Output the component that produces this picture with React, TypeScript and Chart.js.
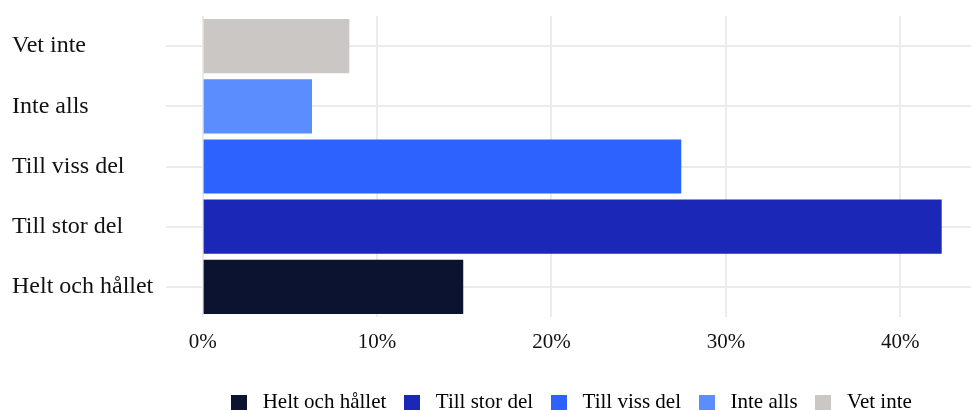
import React, { useEffect, useRef } from 'react';
import { Chart, registerables } from 'chart.js';

Chart.register(...registerables);

// Legend / data order (bottom bar first)
const categories = ['Helt och hållet', 'Till stor del', 'Till viss del', 'Inte alls', 'Vet inte'];
const values = [14.94, 42.37, 27.44, 6.27, 8.41];
const colors = ['#0b1331', '#1a27b7', '#2e62ff', '#5b8dff', '#cbc7c4'];
const xTickValues = [0, 10, 20, 30, 40];

const FONT = "'Liberation Serif', 'Times New Roman', serif";

export default function App() {
  const ref = useRef<HTMLCanvasElement>(null);

  useEffect(() => {
    const swatches = colors.map((c) => {
      const cv = document.createElement('canvas');
      cv.width = 16;
      cv.height = 16;
      const g = cv.getContext('2d')!;
      g.fillStyle = c;
      g.fillRect(0, 0, 16, 16);
      return cv;
    });

    const chart = new Chart(ref.current!, {
      type: 'bar',
      data: {
        labels: categories,
        datasets: [
          {
            data: values,
            backgroundColor: colors,
            borderWidth: 0,
            barPercentage: 0.9,
            categoryPercentage: 1,
          },
        ],
      },
      options: {
        indexAxis: 'y',
        animation: false,
        responsive: true,
        maintainAspectRatio: false,
        layout: { padding: { left: 12, top: 16, right: 0, bottom: 0 } },
        scales: {
          x: {
            type: 'linear',
            min: -2.1,
            max: 44.05,
            grid: { color: '#ebebeb', lineWidth: 2, drawTicks: false },
            border: { display: false },
            afterBuildTicks: (s: any) => {
              s.ticks = xTickValues.map((v) => ({ value: v }));
            },
            afterFit: (s: any) => {
              s.height = 63;
            },
            ticks: {
              callback: (v: any) => v + '%',
              font: { family: FONT, size: 21 },
              color: '#111111',
              padding: 13,
              maxRotation: 0,
            },
          },
          y: {
            reverse: true,
            grid: { color: '#ebebeb', lineWidth: 2, drawTicks: false, offset: false },
            border: { display: false },
            afterFit: (s: any) => {
              s.width = 154;
            },
            ticks: {
              crossAlign: 'far',
              font: { family: FONT, size: 24 },
              color: '#111111',
              padding: 0,
            },
          },
        },
        plugins: {
          tooltip: { enabled: false },
          legend: {
            position: 'bottom',
            fullSize: false,
            labels: {
              usePointStyle: true,
              pointStyleWidth: 27,
              boxHeight: 16,
              padding: 12,
              color: '#111111',
              font: { family: FONT, size: 21 },
              generateLabels: () =>
                categories.map((c, i) => ({
                  text: c,
                  fillStyle: colors[i],
                  strokeStyle: colors[i],
                  lineWidth: 0,
                  pointStyle: swatches[i],
                  hidden: false,
                  index: i,
                  datasetIndex: 0,
                })),
            },
          },
        },
      },
    } as any);
    return () => chart.destroy();
  }, []);

  return (
    <div style={{ position: 'fixed', left: 0, top: 0, width: 971, height: 423 }}>
      <canvas ref={ref} />
    </div>
  );
}
